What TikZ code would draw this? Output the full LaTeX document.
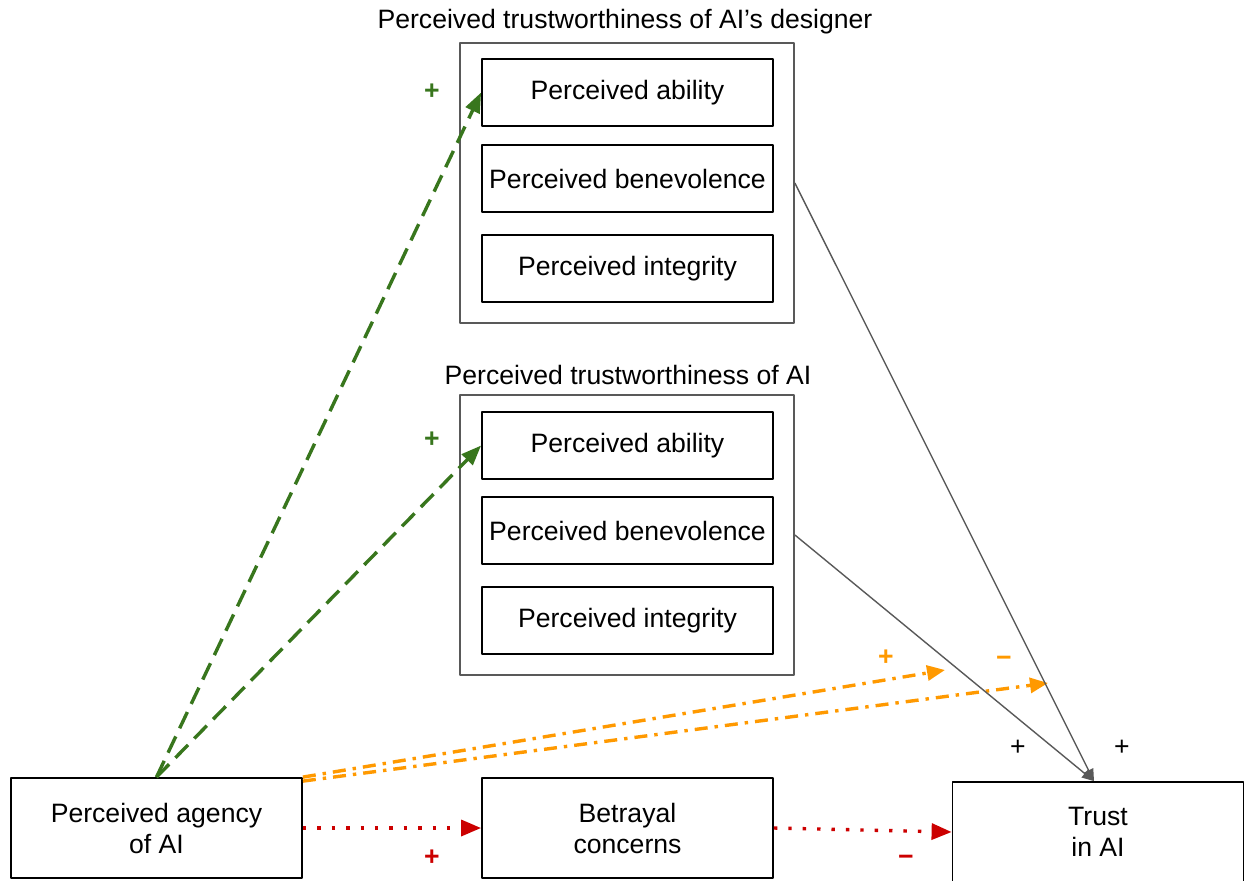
\documentclass[tikz,border=0pt]{standalone}
\usepackage{fontspec}
\setmainfont{Liberation Sans}
\usetikzlibrary{arrows.meta}
\definecolor{agreen}{HTML}{38761D}
\definecolor{aorange}{HTML}{FF9900}
\definecolor{ared}{HTML}{CC0000}
\definecolor{agray}{HTML}{595959}
\begin{document}
\begin{tikzpicture}[x=0.5pt,y=-0.5pt,line join=round,
  font=\fontsize{13.3}{15.5}\selectfont]
\tikzset{item/.style={draw,line width=0.9pt,minimum width=145.5pt,minimum height=33.5pt,align=center,inner sep=0pt},
  group/.style={draw=agray,line width=0.9pt,minimum width=167pt,minimum height=140pt,inner sep=0pt},
  var/.style={draw,line width=0.9pt,minimum width=145.5pt,minimum height=50pt,align=center,inner sep=0pt},
  sign/.style={font=\fontsize{13.3}{15.5}\selectfont\bfseries},
  greenarr/.style={agreen,line width=1.7pt,dash pattern=on 9pt off 4.5pt,-{Triangle[length=10pt,width=7.5pt]}},
  orangearr/.style={aorange,line width=1.7pt,dash pattern=on 6.5pt off 3.5pt on 1.7pt off 3.5pt,-{Triangle[length=9pt,width=7.5pt]}},
  redarr/.style={ared,line width=1.7pt,dash pattern=on 1.7pt off 5.5pt,-{Triangle[length=10pt,width=8pt]}},
  grayarr/.style={agray,line width=0.7pt,-{Triangle[length=6pt,width=5pt]}}}
\useasboundingbox (0,0) rectangle (1244,880);
% designer trustworthiness
\node[group] (des) at (627,183) {};
\node at (625,22) {Perceived trustworthiness of AI’s designer};
\node[item] (desabil) at (627.5,92.5) {Perceived ability};
\node[item] (desbene) at (627.5,178.5) {Perceived benevolence};
\node[item] (desinte) at (627.5,268.5) {Perceived integrity};
% AI trustworthiness
\node[group] (ai) at (627,535) {};
\node at (628,375) {Perceived trustworthiness of AI};
\node[item] (aiabil) at (627.5,445.5) {Perceived ability};
\node[item] (aibene) at (627.5,530.5) {Perceived benevolence};
\node[item] (aiinte) at (627.5,620.5) {Perceived integrity};
% bottom row
\node[var] (agency) at (156.5,828) {Perceived agency\\of AI};
\node[var] (betray) at (627.5,828) {Betrayal\\concerns};
\node[var] (trust) at (1098,832) {Trust\\in AI};
\coordinate (oend1) at (945,670);
\coordinate (oend2) at (1048,683);
% connectors
\draw[greenarr] (agency.north) -- (desabil.west);
\draw[greenarr] (agency.north) -- (aiabil.west);
\draw[orangearr] (agency.north east) -- (oend1);
\draw[orangearr] ([yshift=-2pt]agency.north east) -- (oend2);
\draw[redarr] (agency.east) -- (betray.west);
\draw[redarr] (betray.east) -- (trust.west);
\draw[grayarr] (des.east) -- ([xshift=-2pt]trust.north);
\draw[grayarr] (ai.east) -- ([xshift=-2pt]trust.north);
% signs
\node[sign,agreen] at (432,92) {+};
\node[sign,agreen] at (432,440) {+};
\node[sign,aorange] at (886,658) {+};
\node[sign,aorange] at (1004,661) {−};
\node[sign,ared] at (432,858) {+};
\node[sign,ared] at (906,860) {−};
\node at (1018,748) {+};
\node at (1122,748) {+};
\end{tikzpicture}
\end{document}
